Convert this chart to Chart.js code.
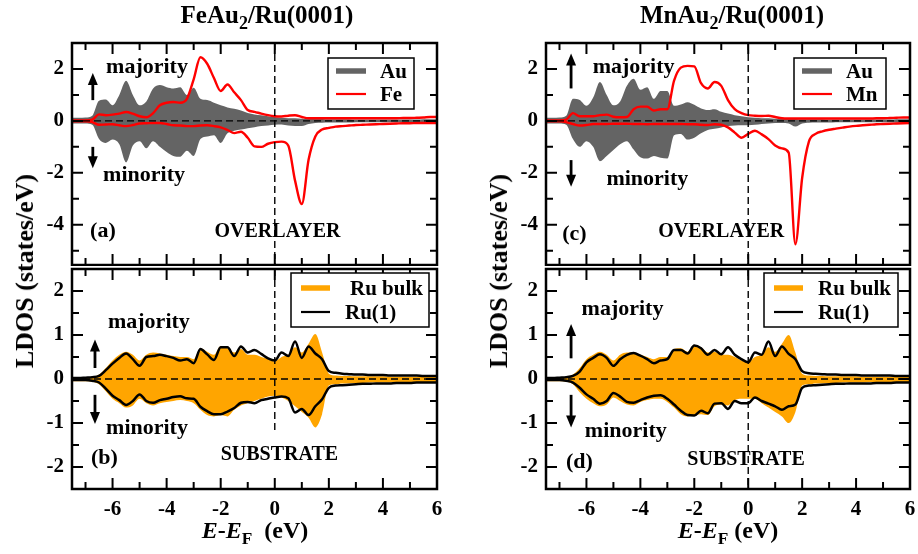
<!DOCTYPE html>
<html>
<head>
<meta charset="utf-8">
<script src="https://cdn.jsdelivr.net/npm/chart.js@4.4.1/dist/chart.umd.min.js"></script>
<style>
  body { margin: 0; background: #fff; }
  #fig { position: relative; width: 918px; height: 554px; overflow: hidden; }
  canvas { position: absolute; z-index: 1; }
  .t { position: absolute; z-index: 2; white-space: nowrap; color: #000;
       font-family: "Liberation Serif", "DejaVu Serif", serif; font-weight: bold; line-height: 1; }
  .title { font-size: 25px; transform: translateX(-50%); }
  .ylab { font-size: 26px; transform: translate(-50%, -50%) rotate(-90deg); }
  .xlab { font-size: 24px; transform: translateX(-50%); }
  .s { font-size: 0.72em; position: relative; top: 0.32em; }
</style>
</head>
<body>
<div id="fig">
  <canvas id="pa" width="459" height="266" style="left:0;top:0"></canvas>
  <canvas id="pb" width="459" height="288" style="left:0;top:266px"></canvas>
  <canvas id="pc" width="444" height="266" style="left:474px;top:0"></canvas>
  <canvas id="pd" width="444" height="288" style="left:474px;top:266px"></canvas>

  <div class="t title" style="left:267px;top:2px">FeAu<span class="s">2</span>/Ru(0001)</div>
  <div class="t title" style="left:732px;top:2px">MnAu<span class="s">2</span>/Ru(0001)</div>
  <div class="t ylab" style="left:25px;top:271px">LDOS (states/eV)</div>
  <div class="t ylab" style="left:499px;top:271px">LDOS (states/eV)</div>
  <div class="t xlab" style="left:255px;top:518px"><i>E</i>-<i>E</i><span class="s">F</span>&nbsp; (eV)</div>
  <div class="t xlab" style="left:728px;top:518px"><i>E</i>-<i>E</i><span class="s">F</span>&nbsp;(eV)</div>
</div>
<script>
// energy grid (eV)
var energy = [-7.5,-7.25,-7,-6.75,-6.5,-6.25,-6,-5.75,-5.5,-5.25,-5,-4.75,-4.5,-4.25,-4,-3.75,-3.5,-3.25,-3,-2.75,
  -2.5,-2.25,-2,-1.75,-1.5,-1.25,-1,-0.75,-0.5,-0.25,0,0.25,0.5,0.75,1,1.25,1.5,1.75,2,2.25,
  2.5,2.75,3,3.25,3.5,3.75,4,4.25,4.5,4.75,5,5.25,5.5,5.75,6];

// tick values
var xMajor = [-6, -4, -2, 0, 2, 4, 6];
var xMinor = [-7, -5, -3, -1, 1, 3, 5];
var yMajorTop = [-4, -2, 0, 2];
var yMinorTop = [-5, -3, -1, 1];
var yMajorBot = [-2, -1, 0, 1, 2];
var yMinorBot = [-1.5, -0.5, 0.5, 1.5];

// (a) FeAu2 overlayer
var auMajA = [0.12,0.12,0.13,0.2,0.78,0.82,0.6,1.0,1.55,1.0,
  0.6,0.75,1.25,1.38,1.3,1.25,1.3,1.0,1.28,0.85,
  0.8,0.7,0.6,0.52,0.47,0.4,0.3,0.25,0.22,0.18,
  0.15,0.12,0.1,0.1,0.08,0.08,0.07,0.07,0.06,0.06,
  0.06,0.06,0.05,0.05,0.05,0.05,0.05,0.05,0.05,0.05,
  0.05,0.05,0.06,0.06,0.06];
var auMinA = [-0.1,-0.1,-0.1,-0.15,-0.7,-0.85,-0.72,-0.9,-1.6,-0.95,
  -0.78,-1.05,-0.78,-1.0,-1.2,-1.35,-1.38,-1.15,-1.35,-0.7,
  -0.6,-0.55,-0.85,-0.48,-0.38,-0.33,-0.28,-0.24,-0.2,-0.18,
  -0.15,-0.14,-0.18,-0.2,-0.2,-0.12,-0.08,-0.07,-0.06,-0.06,
  -0.06,-0.06,-0.05,-0.05,-0.05,-0.05,-0.05,-0.05,-0.05,-0.05,
  -0.05,-0.05,-0.06,-0.06,-0.06];
var feMajA = [0.02,0.02,0.02,0.05,0.25,0.22,0.24,0.28,0.34,0.28,
  0.18,0.14,0.3,0.6,0.7,0.73,0.7,0.85,1.6,2.45,
  2.2,1.65,1.15,1.4,1.1,0.8,0.42,0.35,0.28,0.22,
  0.18,0.17,0.2,0.22,0.15,0.1,0.1,0.1,0.1,0.1,
  0.1,0.1,0.1,0.1,0.1,0.1,0.1,0.1,0.1,0.11,
  0.11,0.12,0.13,0.15,0.15];
var feMinA = [-0.02,-0.02,-0.02,-0.05,-0.15,-0.14,-0.13,-0.17,-0.2,-0.16,
  -0.1,-0.09,-0.08,-0.08,-0.12,-0.17,-0.18,-0.2,-0.2,-0.18,
  -0.17,-0.2,-0.25,-0.35,-0.47,-0.42,-0.65,-0.98,-1.0,-0.88,
  -0.82,-0.8,-0.95,-2.3,-3.2,-1.5,-0.6,-0.33,-0.27,-0.22,
  -0.2,-0.18,-0.16,-0.15,-0.14,-0.13,-0.12,-0.11,-0.1,-0.09,
  -0.09,-0.08,-0.08,-0.08,-0.08];

// (b) substrate under FeAu2
var ruBulkMajB = [0.04,0.04,0.04,0.05,0.1,0.25,0.42,0.55,0.62,0.55,
  0.42,0.55,0.6,0.58,0.55,0.52,0.5,0.5,0.45,0.7,
  0.62,0.55,0.75,0.7,0.6,0.68,0.55,0.55,0.5,0.45,
  0.4,0.5,0.55,0.72,0.6,0.8,1.02,0.6,0.12,0.08,
  0.07,0.07,0.06,0.06,0.06,0.06,0.06,0.05,0.05,0.05,
  0.05,0.05,0.05,0.05,0.05];
var ru1MajB = [0.02,0.02,0.03,0.04,0.07,0.2,0.35,0.48,0.58,0.45,
  0.3,0.5,0.52,0.55,0.52,0.48,0.42,0.45,0.36,0.68,
  0.56,0.43,0.72,0.72,0.52,0.74,0.6,0.66,0.57,0.47,
  0.42,0.6,0.52,0.85,0.48,0.74,0.58,0.45,0.18,0.14,
  0.12,0.11,0.1,0.1,0.09,0.09,0.09,0.08,0.08,0.08,
  0.08,0.08,0.07,0.07,0.07];
var ruBulkMinB = [-0.05,-0.05,-0.05,-0.06,-0.12,-0.28,-0.45,-0.55,-0.65,-0.6,
  -0.45,-0.55,-0.6,-0.55,-0.52,-0.5,-0.48,-0.5,-0.55,-0.7,
  -0.82,-0.85,-0.82,-0.85,-0.7,-0.6,-0.55,-0.5,-0.45,-0.4,
  -0.38,-0.42,-0.5,-0.62,-0.75,-0.88,-1.1,-0.8,-0.15,-0.12,
  -0.1,-0.1,-0.09,-0.09,-0.08,-0.08,-0.08,-0.08,-0.07,-0.07,
  -0.07,-0.07,-0.07,-0.07,-0.07];
var ru1MinB = [-0.02,-0.02,-0.02,-0.04,-0.08,-0.22,-0.38,-0.48,-0.59,-0.5,
  -0.35,-0.5,-0.54,-0.48,-0.45,-0.41,-0.39,-0.44,-0.45,-0.63,
  -0.73,-0.8,-0.8,-0.74,-0.66,-0.54,-0.52,-0.55,-0.48,-0.45,
  -0.42,-0.4,-0.44,-0.76,-0.68,-0.82,-0.62,-0.46,-0.2,-0.15,
  -0.14,-0.13,-0.12,-0.11,-0.11,-0.1,-0.1,-0.1,-0.09,-0.09,
  -0.09,-0.08,-0.08,-0.08,-0.08];

// (c) MnAu2 overlayer
var auMajC = [0.12,0.12,0.13,0.2,0.85,0.8,0.58,0.9,1.5,1.0,
  0.6,0.75,1.35,1.62,1.2,1.3,0.85,1.15,1.15,0.58,
  0.63,0.72,0.62,0.48,0.42,0.45,0.35,0.28,0.22,0.18,
  0.14,0.12,0.1,0.1,0.08,0.08,0.07,0.07,0.06,0.06,
  0.06,0.06,0.05,0.05,0.05,0.05,0.05,0.05,0.05,0.05,
  0.05,0.05,0.06,0.06,0.06];
var auMinC = [-0.1,-0.1,-0.1,-0.15,-0.7,-1.0,-0.78,-1.0,-1.55,-1.35,
  -1.12,-0.9,-0.78,-1.1,-1.4,-1.45,-1.35,-1.42,-1.45,-0.55,
  -0.5,-0.72,-0.65,-0.48,-0.35,-0.3,-0.25,-0.2,-0.18,-0.17,
  -0.17,-0.15,-0.12,-0.1,-0.08,-0.08,-0.1,-0.22,-0.1,-0.07,
  -0.06,-0.06,-0.06,-0.05,-0.05,-0.05,-0.05,-0.05,-0.05,-0.05,
  -0.05,-0.05,-0.06,-0.06,-0.06];
var mnMajC = [0.02,0.02,0.02,0.05,0.3,0.18,0.18,0.18,0.22,0.24,
  0.16,0.14,0.15,0.45,0.55,0.55,0.4,0.45,0.45,1.55,
  2.05,2.12,2.1,1.45,1.25,1.5,1.35,0.8,0.45,0.3,
  0.22,0.2,0.19,0.2,0.15,0.1,0.09,0.09,0.09,0.09,
  0.09,0.09,0.09,0.09,0.09,0.09,0.09,0.09,0.09,0.1,
  0.1,0.11,0.12,0.13,0.13];
var mnMinC = [-0.02,-0.02,-0.02,-0.05,-0.12,-0.18,-0.16,-0.12,-0.12,-0.12,
  -0.11,-0.11,-0.11,-0.12,-0.12,-0.13,-0.12,-0.12,-0.12,-0.12,
  -0.12,-0.13,-0.13,-0.15,-0.16,-0.13,-0.15,-0.25,-0.45,-0.65,
  -0.5,-0.38,-0.52,-0.7,-0.95,-1.06,-1.22,-4.75,-2.2,-0.8,
  -0.5,-0.4,-0.34,-0.3,-0.26,-0.22,-0.19,-0.17,-0.15,-0.13,
  -0.12,-0.11,-0.1,-0.09,-0.08];

// (d) substrate under MnAu2
var ruBulkMajD = [0.04,0.04,0.04,0.05,0.1,0.25,0.45,0.55,0.62,0.55,
  0.42,0.55,0.6,0.6,0.55,0.5,0.45,0.5,0.5,0.68,
  0.7,0.62,0.75,0.72,0.6,0.62,0.55,0.55,0.5,0.42,
  0.38,0.5,0.55,0.72,0.62,0.8,1.0,0.6,0.12,0.08,
  0.07,0.07,0.06,0.06,0.06,0.06,0.06,0.05,0.05,0.05,
  0.05,0.05,0.05,0.05,0.05];
var ru1MajD = [0.02,0.02,0.03,0.04,0.07,0.17,0.38,0.48,0.56,0.48,
  0.3,0.45,0.55,0.59,0.53,0.45,0.36,0.42,0.45,0.66,
  0.66,0.58,0.76,0.7,0.55,0.66,0.56,0.72,0.55,0.45,
  0.38,0.6,0.55,0.85,0.52,0.74,0.57,0.45,0.18,0.13,
  0.12,0.11,0.1,0.1,0.09,0.09,0.09,0.08,0.08,0.08,
  0.08,0.08,0.07,0.07,0.07];
var ruBulkMinD = [-0.05,-0.05,-0.05,-0.06,-0.12,-0.3,-0.45,-0.55,-0.62,-0.58,
  -0.42,-0.5,-0.58,-0.6,-0.52,-0.48,-0.45,-0.45,-0.52,-0.65,
  -0.8,-0.85,-0.82,-0.8,-0.82,-0.62,-0.58,-0.6,-0.48,-0.45,
  -0.45,-0.45,-0.55,-0.65,-0.75,-0.85,-1.0,-0.75,-0.15,-0.12,
  -0.1,-0.1,-0.09,-0.09,-0.08,-0.08,-0.08,-0.08,-0.07,-0.07,
  -0.07,-0.07,-0.07,-0.07,-0.07];
var ru1MinD = [-0.02,-0.02,-0.02,-0.04,-0.08,-0.2,-0.35,-0.45,-0.56,-0.5,
  -0.32,-0.4,-0.52,-0.54,-0.48,-0.42,-0.38,-0.37,-0.45,-0.58,
  -0.72,-0.82,-0.83,-0.72,-0.78,-0.56,-0.55,-0.68,-0.5,-0.55,
  -0.55,-0.42,-0.5,-0.56,-0.62,-0.7,-0.62,-0.58,-0.2,-0.15,
  -0.14,-0.13,-0.12,-0.11,-0.11,-0.1,-0.1,-0.1,-0.1,-0.09,
  -0.09,-0.09,-0.08,-0.08,-0.08];

var GRAY = 'rgb(100,100,100)';
var ORANGE = 'rgb(255,165,0)';
var RED = 'rgb(255,0,0)';
var SERIF = '"Liberation Serif", "DejaVu Serif", serif';

function pts(arr) {
    return energy.map(function (e, i) { return { x: e, y: arr[i] }; });
}
function lineSet(arr, color, w) {
    return { data: pts(arr), borderColor: color, borderWidth: w, fill: false, order: 0 };
}
function fillSet(arr, color) {
    return { data: pts(arr), borderColor: color, backgroundColor: color, borderWidth: 0, fill: 'origin', order: 1 };
}

function drawArrow(ctx, x, yFrom, yTo) {
    var dir = yTo < yFrom ? -1 : 1;
    ctx.beginPath();
    ctx.moveTo(x, yFrom);
    ctx.lineTo(x, yTo - dir * 9);
    ctx.stroke();
    ctx.beginPath();
    ctx.moveTo(x, yTo);
    ctx.lineTo(x - 5, yTo - dir * 12);
    ctx.lineTo(x + 5, yTo - dir * 12);
    ctx.closePath();
    ctx.fill();
}

// frame, inward ticks, dashed zero lines, labels and legend box
var decor = {
    id: 'decor',
    afterDatasetsDraw: function (chart, args, o) {
        var ctx = chart.ctx, a = chart.chartArea;
        var sx = chart.scales.x, sy = chart.scales.y;
        ctx.save();

        ctx.strokeStyle = '#000';
        ctx.lineWidth = 1.4;
        ctx.setLineDash([7, 4]);
        var y0 = sy.getPixelForValue(0), x0 = sx.getPixelForValue(0);
        ctx.beginPath();
        ctx.moveTo(a.left, y0);
        ctx.lineTo(a.right, y0);
        ctx.moveTo(x0, a.top);
        ctx.lineTo(x0, o.vStop === undefined ? a.bottom : sy.getPixelForValue(o.vStop));
        ctx.stroke();
        ctx.setLineDash([]);

        ctx.lineWidth = 2;
        function xt(vals, len) {
            vals.forEach(function (v) {
                var p = sx.getPixelForValue(v);
                ctx.beginPath();
                ctx.moveTo(p, a.bottom); ctx.lineTo(p, a.bottom - len);
                ctx.moveTo(p, a.top); ctx.lineTo(p, a.top + len);
                ctx.stroke();
            });
        }
        function yt(vals, len) {
            vals.forEach(function (v) {
                var p = sy.getPixelForValue(v);
                ctx.beginPath();
                ctx.moveTo(a.left, p); ctx.lineTo(a.left + len, p);
                ctx.moveTo(a.right, p); ctx.lineTo(a.right - len, p);
                ctx.stroke();
            });
        }
        xt(xMajor, 11); xt(xMinor, 7);
        yt(o.yMajor, 11); yt(o.yMinor, 7);

        ctx.lineWidth = 2.5;
        ctx.strokeRect(a.left, a.top, a.right - a.left, a.bottom - a.top);

        ctx.fillStyle = '#000';
        ctx.textBaseline = 'alphabetic';
        o.notes.forEach(function (n) {
            ctx.font = 'bold ' + (n.size || 22) + 'px ' + SERIF;
            ctx.textAlign = n.align || 'left';
            ctx.fillText(n.t, sx.getPixelForValue(n.x), sy.getPixelForValue(n.y));
        });
        ctx.lineWidth = 2.8;
        o.arrows.forEach(function (ar) {
            drawArrow(ctx, sx.getPixelForValue(ar.x), sy.getPixelForValue(ar.from), sy.getPixelForValue(ar.to));
        });

        var L = o.legend;
        var bx = a.right - L.right - L.w, by = a.top + L.top;
        ctx.fillStyle = '#fff';
        ctx.fillRect(bx, by, L.w, L.h);
        ctx.lineWidth = 1.5;
        ctx.strokeStyle = '#000';
        ctx.strokeRect(bx, by, L.w, L.h);
        ctx.font = 'bold 21px ' + SERIF;
        ctx.textAlign = 'left';
        L.items.forEach(function (it) {
            ctx.strokeStyle = it.color;
            ctx.lineWidth = it.lw;
            ctx.beginPath();
            ctx.moveTo(bx + it.s0, by + it.y);
            ctx.lineTo(bx + it.s1, by + it.y);
            ctx.stroke();
            ctx.fillStyle = '#000';
            ctx.fillText(it.label, bx + it.tx, by + it.y + 7);
        });
        ctx.restore();
    }
};

function makePanel(id, cfg) {
    var tickFont = { family: SERIF, size: 21, weight: 'bold' };
    return new Chart(document.getElementById(id), {
        type: 'line',
        data: { datasets: cfg.datasets },
        options: {
            responsive: false,
            animation: false,
            layout: { padding: cfg.padding },
            elements: {
                point: { radius: 0 },
                line: { cubicInterpolationMode: 'monotone', borderJoinStyle: 'round' }
            },
            plugins: {
                legend: { display: false },
                tooltip: { enabled: false },
                decor: cfg.decor
            },
            scales: {
                x: {
                    type: 'linear', min: -7.5, max: 6,
                    display: cfg.showX,
                    grid: { display: false, drawTicks: false },
                    border: { display: false },
                    ticks: { padding: 8, color: '#000', font: tickFont },
                    afterBuildTicks: function (s) { s.ticks = xMajor.map(function (v) { return { value: v }; }); },
                    afterFit: function (s) { s.height = cfg.showX ? 65 : 0; s.paddingLeft = 0; s.paddingRight = 0; }
                },
                y: {
                    type: 'linear', min: cfg.yMin, max: cfg.yMax,
                    grid: { display: false, drawTicks: false },
                    border: { display: false },
                    ticks: { padding: 8, color: '#000', font: tickFont },
                    afterBuildTicks: function (s) { s.ticks = cfg.decor.yMajor.map(function (v) { return { value: v }; }); },
                    afterFit: function (s) { s.width = 72; s.paddingTop = 0; s.paddingBottom = 0; }
                }
            }
        },
        plugins: [decor]
    });
}

function auLegend(right, w, metal) {
    return { right: right, top: 15, w: w, h: 51, items: [
        { label: 'Au', color: GRAY, lw: 5.5, y: 13, s0: 8, s1: 38, tx: 52 },
        { label: metal, color: RED, lw: 2.2, y: 36, s0: 8, s1: 38, tx: 52 }
    ] };
}
function ruLegend(right, w, tx1, tx2) {
    return { right: right, top: 4, w: w, h: 54, items: [
        { label: 'Ru bulk', color: ORANGE, lw: 5.5, y: 15, s0: 10, s1: 39, tx: tx1 },
        { label: 'Ru(1)', color: '#000', lw: 2.2, y: 39, s0: 10, s1: 39, tx: tx2 }
    ] };
}

makePanel('pa', {
    padding: { top: 43, right: 22, bottom: 1, left: 0 },
    showX: false, yMin: -5.55, yMax: 3,
    datasets: [lineSet(feMajA, RED, 2.4), lineSet(feMinA, RED, 2.4), fillSet(auMajA, GRAY), fillSet(auMinA, GRAY)],
    decor: {
        yMajor: yMajorTop, yMinor: yMinorTop,
        notes: [
            { t: 'majority', x: -6.24, y: 1.84 },
            { t: 'minority', x: -6.35, y: -2.32 },
            { t: '(a)', x: -6.83, y: -4.47 },
            { t: 'OVERLAYER', x: 0.1, y: -4.47, align: 'center', size: 20 }
        ],
        arrows: [{ x: -6.73, from: 0.8, to: 1.84 }, { x: -6.73, from: -1.0, to: -1.82 }],
        legend: auLegend(23, 86, 'Fe')
    }
});

makePanel('pb', {
    padding: { top: 3, right: 22, bottom: 0, left: 0 },
    showX: true, yMin: -2.5, yMax: 2.5,
    datasets: [lineSet(ru1MajB, '#000', 2.5), lineSet(ru1MinB, '#000', 2.5), fillSet(ruBulkMajB, ORANGE), fillSet(ruBulkMinB, ORANGE)],
    decor: {
        yMajor: yMajorBot, yMinor: yMinorBot, vStop: -1.2,
        notes: [
            { t: 'majority', x: -6.17, y: 1.16 },
            { t: 'minority', x: -6.24, y: -1.25 },
            { t: '(b)', x: -6.8, y: -1.93 },
            { t: 'SUBSTRATE', x: 0.17, y: -1.84, align: 'center', size: 20 }
        ],
        arrows: [{ x: -6.65, from: 0.25, to: 0.9 }, { x: -6.65, from: -0.36, to: -1.02 }],
        legend: ruLegend(8, 138, 59, 54)
    }
});

makePanel('pc', {
    padding: { top: 43, right: 8, bottom: 1, left: 0 },
    showX: false, yMin: -5.55, yMax: 3,
    datasets: [lineSet(mnMajC, RED, 2.4), lineSet(mnMinC, RED, 2.4), fillSet(auMajC, GRAY), fillSet(auMinC, GRAY)],
    decor: {
        yMajor: yMajorTop, yMinor: yMinorTop,
        notes: [
            { t: 'majority', x: -5.77, y: 1.83 },
            { t: 'minority', x: -5.26, y: -2.47 },
            { t: '(c)', x: -6.9, y: -4.59 },
            { t: 'OVERLAYER', x: -1.0, y: -4.48, align: 'center', size: 20 }
        ],
        arrows: [{ x: -6.57, from: 1.25, to: 2.6 }, { x: -6.57, from: -1.51, to: -2.54 }],
        legend: auLegend(24, 92, 'Mn')
    }
});

makePanel('pd', {
    padding: { top: 3, right: 8, bottom: 0, left: 0 },
    showX: true, yMin: -2.5, yMax: 2.5,
    datasets: [lineSet(ru1MajD, '#000', 2.5), lineSet(ru1MinD, '#000', 2.5), fillSet(ruBulkMajD, ORANGE), fillSet(ruBulkMinD, ORANGE)],
    decor: {
        yMajor: yMajorBot, yMinor: yMinorBot,
        notes: [
            { t: 'majority', x: -6.18, y: 1.45 },
            { t: 'minority', x: -6.06, y: -1.31 },
            { t: '(d)', x: -6.76, y: -2.03 },
            { t: 'SUBSTRATE', x: -0.08, y: -1.95, align: 'center', size: 20 }
        ],
        arrows: [{ x: -6.57, from: 0.47, to: 1.25 }, { x: -6.57, from: -0.36, to: -1.1 }],
        legend: ruLegend(12, 134, 54, 54)
    }
});
</script>
</body>
</html>
